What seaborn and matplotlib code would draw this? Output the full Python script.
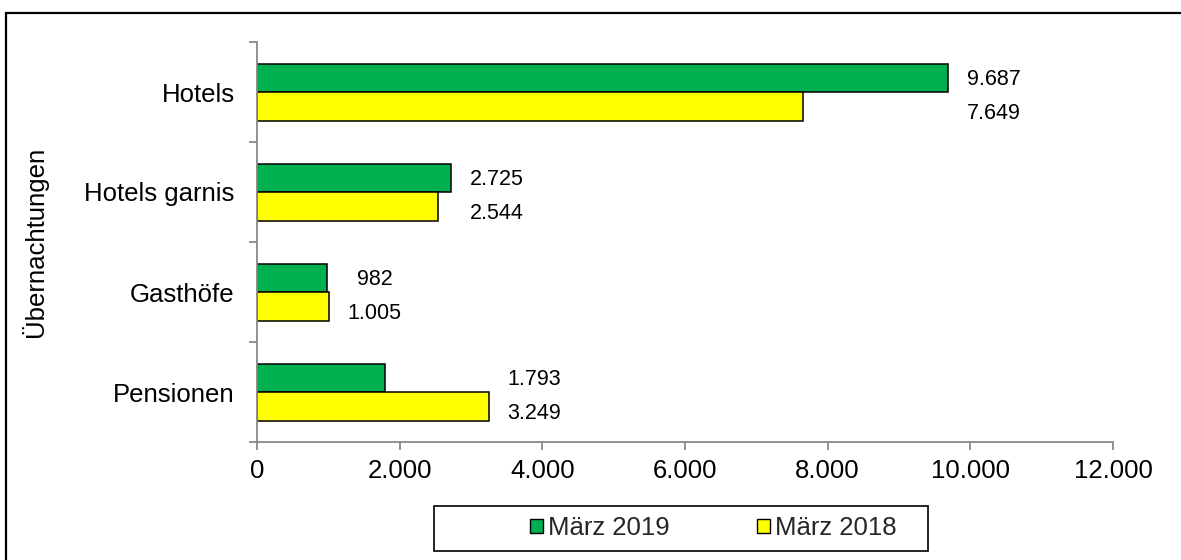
import matplotlib
matplotlib.use("Agg")
import matplotlib.pyplot as plt
from matplotlib.patches import Rectangle, Patch
from matplotlib.ticker import FixedLocator, FuncFormatter
import seaborn as sns
import pandas as pd

# ---- data ----
categories = ["Hotels", "Hotels garnis", "Gasthöfe", "Pensionen"]
series_names = ["März 2019", "März 2018"]
values_2019 = [9687, 2725, 982, 1793]
values_2018 = [7649, 2544, 1005, 3249]
x_ticks = [0, 2000, 4000, 6000, 8000, 10000, 12000]
y_title = "Übernachtungen"

colors = ["#00B050", "#FFFF00"]

def de_fmt(v):
    return f"{int(v):,}".replace(",", ".")

df = pd.DataFrame({
    "Kategorie": categories * 2,
    "Wert": values_2019 + values_2018,
    "Zeitraum": [series_names[0]] * len(categories) + [series_names[1]] * len(categories),
})

sns.set_theme(style="white")
plt.rcParams["font.family"] = ["Liberation Sans", "DejaVu Sans"]

W, H = 1181, 560
fig = plt.figure(figsize=(W / 100, H / 100), dpi=100)
ax = fig.add_axes([257 / W, 1 - 442 / H, (1113 - 257) / W, (442 - 42) / H])

sns.barplot(data=df, y="Kategorie", x="Wert", hue="Zeitraum", orient="h",
            order=categories, hue_order=series_names, palette=colors,
            width=0.57, edgecolor="black", linewidth=1.1, saturation=1,
            ax=ax, legend=False, errorbar=None)

ax.set_xlim(x_ticks[0], x_ticks[-1])
ax.set_ylim(len(categories) - 0.5, -0.5)
ax.set_xticks(x_ticks)
ax.xaxis.set_major_formatter(FuncFormatter(lambda v, p: de_fmt(v)))

gray = "#888888"
for s in ["top", "right"]:
    ax.spines[s].set_visible(False)
for s in ["left", "bottom"]:
    ax.spines[s].set_color(gray)
    ax.spines[s].set_linewidth(1.3)

ax.tick_params(axis="x", which="major", direction="out", length=6, width=1.3,
               color=gray, labelsize=18.5, labelcolor="black", pad=6, bottom=True)
ax.tick_params(axis="y", which="major", length=0, labelsize=18.5,
               labelcolor="black", pad=16)
ax.yaxis.set_minor_locator(FixedLocator([i - 0.5 for i in range(len(categories) + 1)]))
ax.tick_params(axis="y", which="minor", direction="out", length=6, width=1.3,
               color=gray, left=True)

ax.set_xlabel("")
ax.set_ylabel(y_title, fontsize=18.5, color="black")
ax.yaxis.set_label_coords((48 - 257) / (1113 - 257), 0.5)

# value labels
bar_h = 0.57 / 2
for i, cat in enumerate(categories):
    gmax = max(values_2019[i], values_2018[i])
    for j, vals in enumerate([values_2019, values_2018]):
        yc = i - bar_h / 2 + j * bar_h
        ax.annotate(de_fmt(vals[i]), xy=(gmax, yc), xytext=(33, -1 - 4 * j),
                    textcoords="offset points", ha="center", va="center",
                    fontsize=15.5, color="black")

# legend
handles = [Patch(facecolor=c, edgecolor="black", linewidth=1.0) for c in colors]
fig.legend(handles, series_names, loc="center",
           bbox_to_anchor=(713 / W, 1 - 528 / H), ncol=2, frameon=False,
           fontsize=18.5, handlelength=0.5, handleheight=0.5,
           handletextpad=0.2, columnspacing=3.4)
fig.patches.append(Rectangle((434 / W, 1 - 551 / H), (928 - 434) / W, (551 - 506) / H,
                             transform=fig.transFigure, fill=False,
                             edgecolor="black", linewidth=1.2))

# outer figure border (left/top visible)
fig.patches.append(Rectangle((6 / W, -0.02), 1.05, 1 - 13 / H + 0.02,
                             transform=fig.transFigure, fill=False,
                             edgecolor="black", linewidth=1.6, clip_on=False))

fig.savefig("out.png", dpi=100)
